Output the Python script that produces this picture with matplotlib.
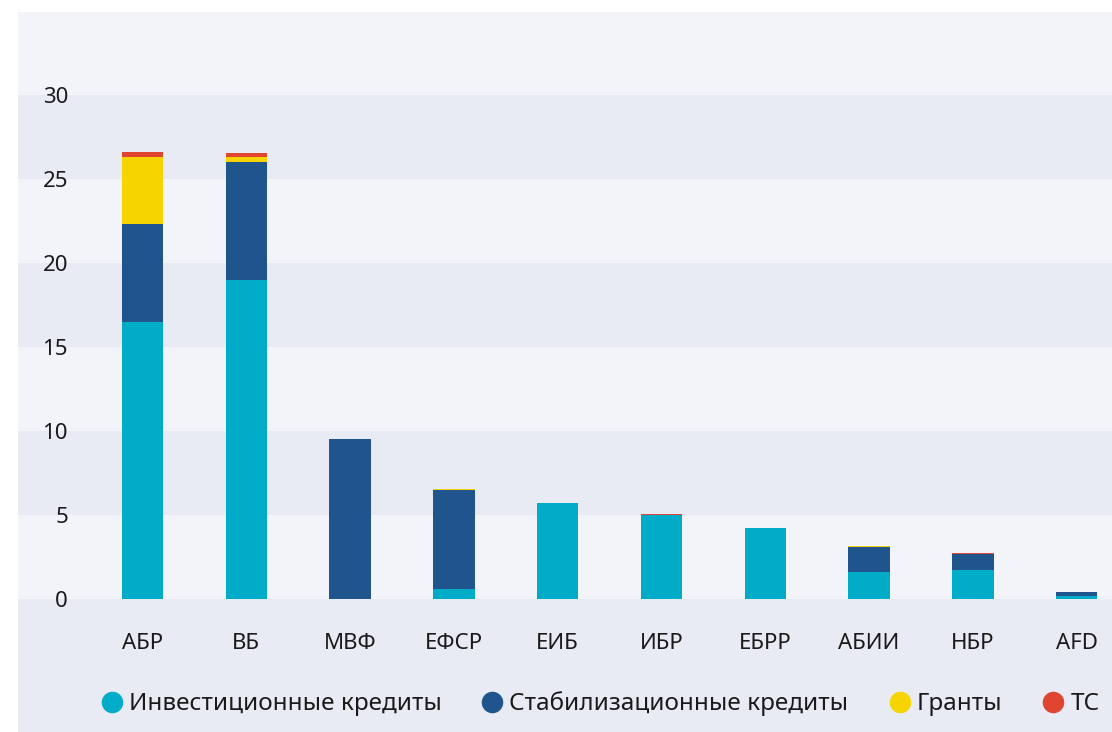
import matplotlib.pyplot as plt
from matplotlib.lines import Line2D
import numpy as np

plt.rcParams['font.family'] = ['Noto Sans', 'DejaVu Sans']

# Data
banks = ["АБР", "ВБ", "МВФ", "ЕФСР", "ЕИБ", "ИБР", "ЕБРР", "АБИИ", "НБР", "AFD"]
invest = [16.5, 19.0, 0.0, 0.6, 5.7, 5.0, 4.2, 1.6, 1.7, 0.2]
stab = [5.8, 7.0, 9.5, 5.9, 0.0, 0.0, 0.0, 1.5, 1.0, 0.2]
grants = [4.0, 0.3, 0.0, 0.03, 0.0, 0.0, 0.0, 0.04, 0.0, 0.0]
tc = [0.3, 0.25, 0.0, 0.0, 0.0, 0.05, 0.02, 0.0, 0.03, 0.0]
series_names = ["Инвестиционные кредиты", "Стабилизационные кредиты", "Гранты", "ТС"]
colors = ["#00acc8", "#1f548c", "#f5d400", "#e04532"]
yticks = [0, 5, 10, 15, 20, 25, 30]

fig = plt.figure(figsize=(11.12, 7.32), dpi=100)
ax = fig.add_axes([18 / 1112, 0, 1 - 18 / 1112, 1 - 12 / 732])

ymin, ymax = -7.92, 34.94
ax.set_ylim(ymin, ymax)
ax.set_xlim(-1.2, 9.34)
ax.set_facecolor("#f3f4f9")

# alternating bands
ax.axhspan(ymin, 0, color="#e9ebf4", lw=0, zorder=0)
for lo in yticks[1::2]:
    ax.axhspan(lo, lo + 5, color="#e9ebf4", lw=0, zorder=0)

x = np.arange(len(banks))
bottom = np.zeros(len(banks))
for vals, name, c in zip([invest, stab, grants, tc], series_names, colors):
    ax.bar(x, vals, width=0.4, bottom=bottom, color=c, linewidth=0, zorder=2)
    bottom += np.array(vals)

for s in ax.spines.values():
    s.set_visible(False)

ax.set_yticks(yticks)
ax.set_yticklabels([str(v) for v in yticks])
ax.tick_params(axis="y", length=0, pad=-36, labelsize=16, labelcolor="#1a1a1a")
ax.set_xticks(x)
ax.set_xticklabels(banks)
ax.tick_params(axis="x", length=0, pad=-64, labelsize=16, labelcolor="#1a1a1a")
for lab in ax.get_xticklabels():
    lab.set_verticalalignment("center")

handles = [Line2D([], [], marker="o", ls="", markersize=15.5, color=c,
                  markeredgewidth=0) for c in colors]
fig.legend(handles, series_names, loc="center", ncol=4, frameon=False,
           bbox_to_anchor=(600 / 1112, 1 - 704 / 732), fontsize=17.5,
           handletextpad=0.25, columnspacing=1.65, handlelength=0.9,
           labelcolor="#1a1a1a")

fig.savefig("out.png", dpi=100, facecolor="white")
